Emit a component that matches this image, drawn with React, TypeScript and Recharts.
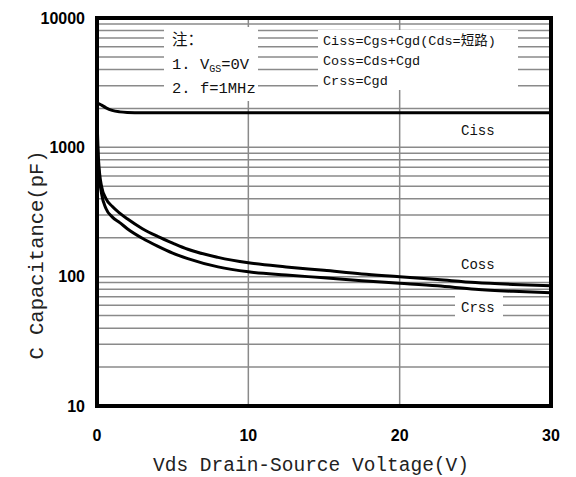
import React from "react";
import {
  CartesianGrid,
  Line,
  LineChart,
  ReferenceArea,
  XAxis,
  YAxis,
} from "recharts";

// Vds (V)
const voltage = [0, 0.1, 0.3, 0.6, 1, 1.5, 2, 3, 4, 5, 6, 8, 10, 12.5, 15, 17.5, 20, 22.5, 25, 27.5, 30];
// capacitance (pF)
const ciss = [2200, 2180, 2120, 2020, 1930, 1880, 1860, 1850, 1850, 1850, 1850, 1850, 1850, 1850, 1850, 1850, 1850, 1850, 1850, 1850, 1850];
const coss = [1700, 800, 500, 400, 350, 310, 280, 235, 205, 182, 163, 141, 128, 119, 112, 105, 100, 95, 90, 87, 85];
const crss = [1300, 700, 440, 335, 290, 262, 235, 198, 172, 152, 138, 119, 109, 103, 98, 93, 89, 85, 80, 77, 75];

const xTicks = [0, 10, 20, 30];
const yTicks = [10, 100, 1000, 10000];
const vGrid = [10, 20];
const hGrid = [
  20, 30, 40, 50, 60, 70, 80, 90, 100,
  200, 300, 400, 500, 600, 700, 800, 900, 1000,
  2000, 3000, 4000, 5000, 6000, 7000, 8000, 9000,
];

const data = voltage.map((v, i) => ({ v, ciss: ciss[i], coss: coss[i], crss: crss[i] }));

const W = 576;
const H = 477;
const MONO = "'Liberation Mono', 'Noto Sans CJK SC', monospace";
const NARROW = "'Liberation Sans Narrow', 'Liberation Sans', Arial, sans-serif";

const scaleOf = (axis: any, v: number) => {
  const s = axis?.scale;
  if (!s) return 0;
  return typeof s === "function" ? s(v) : s.map(v);
};

const box = (left: number, top: number, width: number, height: number): React.CSSProperties => ({
  position: "absolute",
  left,
  top,
  width,
  height,
  background: "#fff",
});

const txt = (left: number, top: number, size: number): React.CSSProperties => ({
  position: "absolute",
  left,
  top,
  fontFamily: MONO,
  fontSize: size,
  lineHeight: 1,
  color: "#111",
  whiteSpace: "nowrap",
});

export default function App() {
  return (
    <div style={{ position: "absolute", left: 0, top: 0, width: W, height: H, background: "#fff" }}>
      <LineChart width={W} height={H} data={data} margin={{ top: 18, right: 25, left: 0, bottom: 0 }}>
        <CartesianGrid
          horizontalCoordinatesGenerator={({ yAxis }: any) => hGrid.map((v) => scaleOf(yAxis, v))}
          verticalCoordinatesGenerator={({ xAxis }: any) => vGrid.map((v) => scaleOf(xAxis, v))}
          stroke="#8a8a8a"
          strokeWidth={1.5}
        />
        <XAxis
          dataKey="v"
          type="number"
          domain={[0, 30]}
          ticks={xTicks}
          height={71}
          tickLine={false}
          axisLine={false}
          tickMargin={18}
          tick={{ fontFamily: NARROW, fontSize: 16, fontWeight: 700, fill: "#000" }}
          label={{
            content: () => (
              <text x={311} y={466} textAnchor="middle" dominantBaseline="central" fontFamily={MONO} fontSize={19.5} fill="#222">
                Vds Drain-Source Voltage(V)
              </text>
            ),
          }}
        />
        <YAxis
          scale="log"
          domain={[10, 10000]}
          ticks={yTicks}
          allowDataOverflow
          width={97}
          tickLine={false}
          axisLine={false}
          tickMargin={6}
          tick={{ fontFamily: NARROW, fontSize: 16, fontWeight: 700, fill: "#000" }}
          label={{
            content: () => (
              <text
                x={37}
                y={255}
                textAnchor="middle"
                dominantBaseline="central"
                fontFamily={MONO}
                fontSize={20.5}
                fill="#222"
                transform="rotate(-90 37 255)"
              >
                C Capacitance(pF)
              </text>
            ),
          }}
        />
        <ReferenceArea x1={0} x2={30} y1={10} y2={10000} fill="none" stroke="#000" strokeWidth={4} />
        <Line dataKey="ciss" type="monotone" stroke="#000" strokeWidth={3} dot={false} isAnimationActive={false} />
        <Line dataKey="coss" type="monotone" stroke="#000" strokeWidth={3} dot={false} isAnimationActive={false} />
        <Line dataKey="crss" type="monotone" stroke="#000" strokeWidth={3} dot={false} isAnimationActive={false} />
      </LineChart>

      {/* note box */}
      <div style={box(164, 27, 94, 74)} />
      <div style={txt(172, 34, 15.5)}>注：</div>
      <div style={txt(172, 58, 15.5)}>
        1. V<sub style={{ fontSize: 10, verticalAlign: "-3px" }}>GS</sub>=0V
      </div>
      <div style={txt(172, 82, 15.5)}>2. f=1MHz</div>

      {/* definitions box */}
      <div style={box(318, 30, 200, 60)} />
      <div style={txt(323, 35, 13.5)}>Ciss=Cgs+Cgd(Cds=短路)</div>
      <div style={txt(323, 55, 13.5)}>Coss=Cds+Cgd</div>
      <div style={txt(323, 75, 13.5)}>Crss=Cgd</div>

      {/* curve labels */}
      <div style={txt(461, 124, 14)}>Ciss</div>
      <div style={txt(461, 258, 14)}>Coss</div>
      <div style={box(455, 295, 48, 22)} />
      <div style={txt(461, 301, 14)}>Crss</div>
    </div>
  );
}
